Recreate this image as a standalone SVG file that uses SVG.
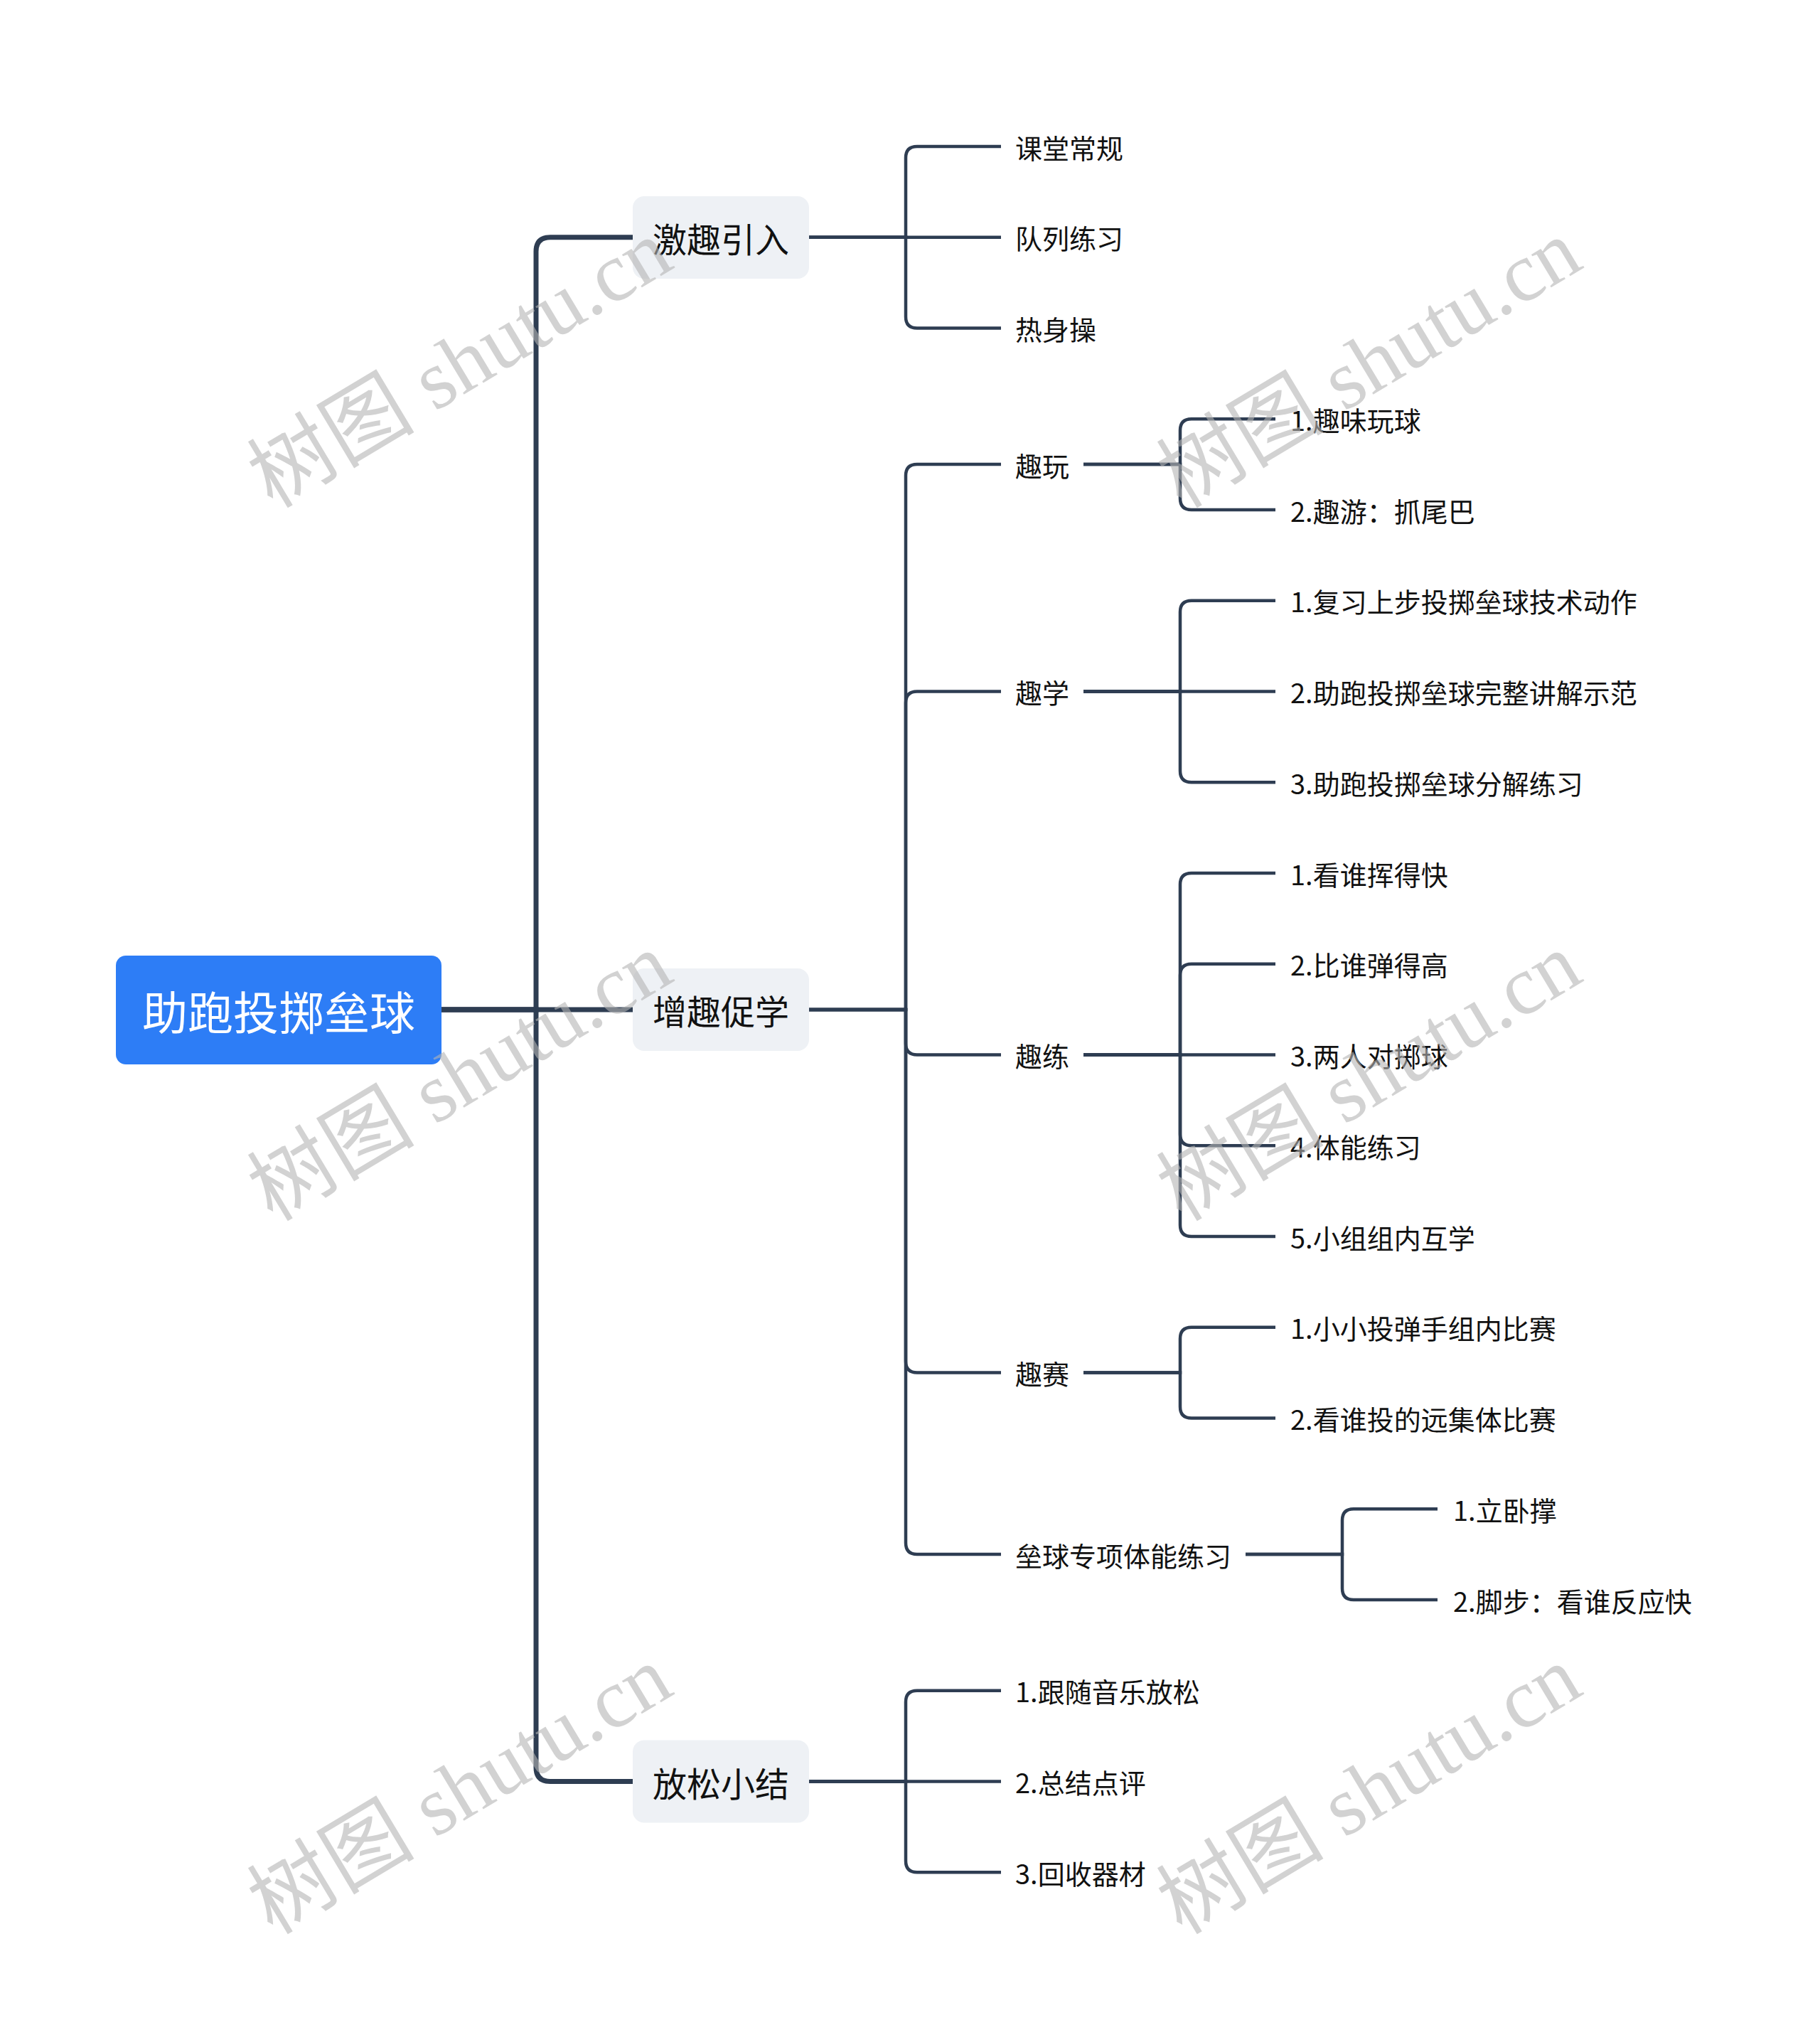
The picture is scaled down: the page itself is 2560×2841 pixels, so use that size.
<svg xmlns="http://www.w3.org/2000/svg" width="2560" height="2841" viewBox="0 0 2560 2841">
<style>
.bg{fill:#ffffff}
.c1{fill:none;stroke:#2E3D52;stroke-width:7;stroke-linecap:butt}
.c2{fill:none;stroke:#2E3D52;stroke-width:4.5;stroke-linecap:butt}
.t{font-family:"Microsoft YaHei","Noto Sans CJK SC","Noto Sans",sans-serif;fill:#111111;dominant-baseline:central}
.root{fill:#2D7DF6}
.l1box{fill:#EEF1F5}
.rt{font-size:64px;fill:#ffffff;text-anchor:middle}
.l1t{font-size:48px;text-anchor:middle}
.l2t{font-size:38px}
.wm{font-family:"Liberation Serif","Noto Sans CJK SC",serif;font-size:118px;fill:#B4B4B4;fill-opacity:0.6;text-anchor:middle;dominant-baseline:central}
</style>
<rect class="bg" x="0" y="0" width="2560" height="2841"/>

<g id="connectors">
  <path class="c1" d="M621 1420 H754 V353.75 Q754 333.75 774 333.75 H890"/>
  <path class="c1" d="M621 1420 H890"/>
  <path class="c1" d="M621 1420 H754 V2485.5 Q754 2505.5 774 2505.5 H890"/>

  <path class="c2" d="M1138 333.75 H1274 V222 Q1274 206 1290 206 H1408"/>
  <path class="c2" d="M1138 333.75 H1408"/>
  <path class="c2" d="M1138 333.75 H1274 V445.5 Q1274 461.5 1290 461.5 H1408"/>

  <path class="c2" d="M1138 1420 H1274 V669.1 Q1274 653.1 1290 653.1 H1408"/>
  <path class="c2" d="M1138 1420 H1274 V988.5 Q1274 972.5 1290 972.5 H1408"/>
  <path class="c2" d="M1138 1420 H1274 V1467.5 Q1274 1483.5 1290 1483.5 H1408"/>
  <path class="c2" d="M1138 1420 H1274 V1914.6 Q1274 1930.6 1290 1930.6 H1408"/>
  <path class="c2" d="M1138 1420 H1274 V2170.1 Q1274 2186.1 1290 2186.1 H1408"/>

  <path class="c2" d="M1524 653.1 H1660 V605.25 Q1660 589.25 1676 589.25 H1794"/>
  <path class="c2" d="M1524 653.1 H1660 V701 Q1660 717 1676 717 H1794"/>

  <path class="c2" d="M1524 972.5 H1660 V860.75 Q1660 844.75 1676 844.75 H1794"/>
  <path class="c2" d="M1524 972.5 H1794"/>
  <path class="c2" d="M1524 972.5 H1660 V1084.25 Q1660 1100.25 1676 1100.25 H1794"/>

  <path class="c2" d="M1524 1483.5 H1660 V1244 Q1660 1228 1676 1228 H1794"/>
  <path class="c2" d="M1524 1483.5 H1660 V1371.75 Q1660 1355.75 1676 1355.75 H1794"/>
  <path class="c2" d="M1524 1483.5 H1794"/>
  <path class="c2" d="M1524 1483.5 H1660 V1595.25 Q1660 1611.25 1676 1611.25 H1794"/>
  <path class="c2" d="M1524 1483.5 H1660 V1723 Q1660 1739 1676 1739 H1794"/>

  <path class="c2" d="M1524 1930.6 H1660 V1882.75 Q1660 1866.75 1676 1866.75 H1794"/>
  <path class="c2" d="M1524 1930.6 H1660 V1978.5 Q1660 1994.5 1676 1994.5 H1794"/>

  <path class="c2" d="M1752 2186.1 H1888 V2138.25 Q1888 2122.25 1904 2122.25 H2022"/>
  <path class="c2" d="M1752 2186.1 H1888 V2234 Q1888 2250 1904 2250 H2022"/>

  <path class="c2" d="M1138 2505.5 H1274 V2393.75 Q1274 2377.75 1290 2377.75 H1408"/>
  <path class="c2" d="M1138 2505.5 H1408"/>
  <path class="c2" d="M1138 2505.5 H1274 V2617.25 Q1274 2633.25 1290 2633.25 H1408"/>
</g>

<g id="root">
  <rect class="root" x="163" y="1344" width="458" height="153" rx="14"/>
  <text class="t rt" x="392" y="1420">助跑投掷垒球</text>
</g>

<g id="n-jiqu">
  <rect class="l1box" x="890" y="276" width="248" height="116" rx="16"/>
  <text class="t l1t" x="1014" y="334">激趣引入</text>
</g>
<g id="n-zengqu">
  <rect class="l1box" x="890" y="1362" width="248" height="116" rx="16"/>
  <text class="t l1t" x="1014" y="1420">增趣促学</text>
</g>
<g id="n-fangsong">
  <rect class="l1box" x="890" y="2447.5" width="248" height="116" rx="16"/>
  <text class="t l1t" x="1014" y="2505.5">放松小结</text>
</g>

<g id="n-ketang"><text class="t l2t" x="1428" y="206">课堂常规</text></g>
<g id="n-duilie"><text class="t l2t" x="1428" y="333.75">队列练习</text></g>
<g id="n-reshen"><text class="t l2t" x="1428" y="461.5">热身操</text></g>

<g id="n-quwan"><text class="t l2t" x="1428" y="653.1">趣玩</text></g>
<g id="n-quxue"><text class="t l2t" x="1428" y="972.5">趣学</text></g>
<g id="n-qulian"><text class="t l2t" x="1428" y="1483.5">趣练</text></g>
<g id="n-qusai"><text class="t l2t" x="1428" y="1930.6">趣赛</text></g>
<g id="n-leiqiu"><text class="t l2t" x="1428" y="2186.1">垒球专项体能练习</text></g>

<g id="n-quwan1"><text class="t l2t" x="1815" y="589.25">1.趣味玩球</text></g>
<g id="n-quwan2"><text class="t l2t" x="1815" y="717">2.趣游：抓尾巴</text></g>

<g id="n-quxue1"><text class="t l2t" x="1815" y="844.75">1.复习上步投掷垒球技术动作</text></g>
<g id="n-quxue2"><text class="t l2t" x="1815" y="972.5">2.助跑投掷垒球完整讲解示范</text></g>
<g id="n-quxue3"><text class="t l2t" x="1815" y="1100.25">3.助跑投掷垒球分解练习</text></g>

<g id="n-qulian1"><text class="t l2t" x="1815" y="1228">1.看谁挥得快</text></g>
<g id="n-qulian2"><text class="t l2t" x="1815" y="1355.75">2.比谁弹得高</text></g>
<g id="n-qulian3"><text class="t l2t" x="1815" y="1483.5">3.两人对掷球</text></g>
<g id="n-qulian4"><text class="t l2t" x="1815" y="1611.25">4.体能练习</text></g>
<g id="n-qulian5"><text class="t l2t" x="1815" y="1739">5.小组组内互学</text></g>

<g id="n-qusai1"><text class="t l2t" x="1815" y="1866.75">1.小小投弹手组内比赛</text></g>
<g id="n-qusai2"><text class="t l2t" x="1815" y="1994.5">2.看谁投的远集体比赛</text></g>

<g id="n-leiqiu1"><text class="t l2t" x="2044" y="2122.25">1.立卧撑</text></g>
<g id="n-leiqiu2"><text class="t l2t" x="2044" y="2250">2.脚步：看谁反应快</text></g>

<g id="n-fs1"><text class="t l2t" x="1428" y="2377.75">1.跟随音乐放松</text></g>
<g id="n-fs2"><text class="t l2t" x="1428" y="2505.5">2.总结点评</text></g>
<g id="n-fs3"><text class="t l2t" x="1428" y="2633.25">3.回收器材</text></g>

<g id="watermarks">
  <text class="wm" transform="translate(647 512) rotate(-31)">树图 shutu.cn</text>
  <text class="wm" transform="translate(1926 512) rotate(-31)">树图 shutu.cn</text>
  <text class="wm" transform="translate(647 1515) rotate(-31)">树图 shutu.cn</text>
  <text class="wm" transform="translate(1926 1515) rotate(-31)">树图 shutu.cn</text>
  <text class="wm" transform="translate(647 2518) rotate(-31)">树图 shutu.cn</text>
  <text class="wm" transform="translate(1926 2518) rotate(-31)">树图 shutu.cn</text>
</g>
</svg>
